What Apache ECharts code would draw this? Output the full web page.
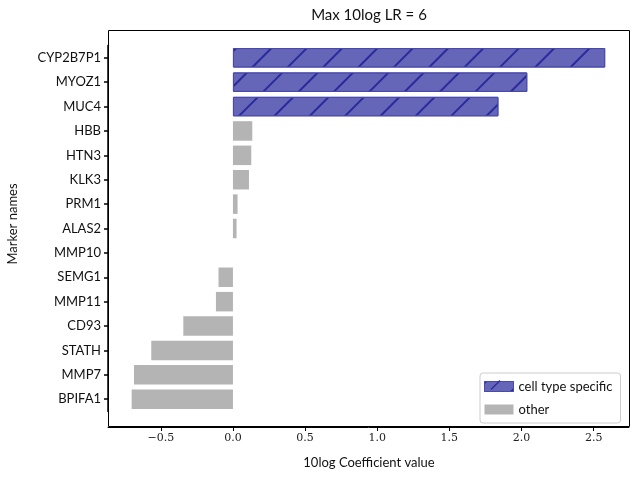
<!DOCTYPE html>
<html>
<head>
<meta charset="utf-8">
<script src="https://cdn.jsdelivr.net/npm/echarts@6/dist/echarts.min.js"></script>
<style>
  html, body { margin: 0; padding: 0; background: #fff; }
  #main { width: 633px; height: 477px; }
</style>
</head>
<body>
<div id="main"></div>
<script>
// marker names, top to bottom
var markers = ['CYP2B7P1', 'MYOZ1', 'MUC4', 'HBB', 'HTN3', 'KLK3', 'PRM1', 'ALAS2',
               'MMP10', 'SEMG1', 'MMP11', 'CD93', 'STATH', 'MMP7', 'BPIFA1'];
// 10log coefficient values
var specificVals = [2.58, 2.04, 1.84, null, null, null, null, null, null, null, null, null, null, null, null];
var otherVals = [null, null, null, 0.134, 0.127, 0.111, 0.032, 0.025, 0, -0.10, -0.118, -0.344, -0.566, -0.686, -0.702];
var xTicks = [-0.5, 0, 0.5, 1, 1.5, 2, 2.5];

var sans = 'Lato';
var serif = 'DejaVu Serif';

var hatch = {
    symbol: 'rect',
    symbolSize: 1,
    dashArrayX: [1, 0],
    dashArrayY: [1.3, 22.7],
    rotation: -Math.PI / 4,
    color: '#2a2a9c'
};

var chart = echarts.init(document.getElementById('main'));

// bands sit inside the frame (30..427) with matplotlib-like margins
var option = {
    animation: false,
    grid: { left: 108, top: 45.6, width: 521, height: 365.8 },
    xAxis: {
        type: 'value',
        min: -0.866,
        max: 2.745,
        offset: 15.6,
        splitLine: { show: false },
        axisLine: { show: true, onZero: false, lineStyle: { color: '#000', width: 1 } },
        axisTick: { show: true, length: 4, lineStyle: { color: '#000' }, customValues: xTicks },
        axisLabel: {
            customValues: xTicks,
            fontFamily: serif, fontSize: 11, color: '#222', margin: 6,
            formatter: function (v) { return v.toFixed(1).replace('-', '\u2212'); }
        }
    },
    yAxis: {
        type: 'category',
        inverse: true,
        data: markers,
        axisLine: { show: true, onZero: false, lineStyle: { color: '#000', width: 1.5 } },
        axisTick: { show: true, alignWithLabel: true, length: 4, lineStyle: { color: '#000', width: 1.5 } },
        axisLabel: { fontFamily: sans, fontSize: 13, color: '#111', margin: 7 },
        splitLine: { show: false }
    },
    legend: {
        orient: 'vertical',
        left: 480, top: 373,
        width: 148,
        backgroundColor: '#fff',
        borderColor: '#ccc',
        borderWidth: 1,
        borderRadius: 3,
        padding: [7, 8, 7, 4],
        itemWidth: 29, itemHeight: 10, itemGap: 10,
        icon: 'rect',
        textStyle: { fontFamily: sans, fontSize: 13, color: '#111' },
        data: [
            { name: 'cell type specific', itemStyle: { borderWidth: 1, borderColor: '#4a4aab' } },
            { name: 'other', itemStyle: { borderWidth: 0 } }
        ]
    },
    series: [{
        name: 'cell type specific',
        type: 'bar',
        data: specificVals,
        barWidth: 19.5,
        barGap: '-100%',
        itemStyle: {
            color: '#6666b9',
            borderColor: '#4a4aab',
            borderWidth: 1,
            decal: hatch
        }
    }, {
        name: 'other',
        type: 'bar',
        data: otherVals,
        barWidth: 19.5,
        barGap: '-100%',
        itemStyle: { color: '#b4b4b4' }
    }],
    graphic: [{
        // axes frame, drawn on top (no fill)
        type: 'rect',
        z: 100,
        silent: true,
        shape: { x: 108.5, y: 30.5, width: 521, height: 396 },
        style: { fill: null, stroke: '#000', lineWidth: 1 }
    }, {
        type: 'text',
        x: 369, y: 15,
        style: { text: 'Max 10log LR = 6', fontFamily: sans, fontSize: 15, fill: '#111', align: 'center', verticalAlign: 'middle' }
    }, {
        type: 'text',
        x: 369, y: 463,
        style: { text: '10log Coefficient value', fontFamily: sans, fontSize: 13, fill: '#111', align: 'center', verticalAlign: 'middle' }
    }, {
        type: 'text',
        x: 13, y: 224,
        rotation: Math.PI / 2,
        style: { text: 'Marker names', fontFamily: sans, fontSize: 13, fill: '#111', align: 'center', verticalAlign: 'middle' }
    }, {
        // hatch stroke on the legend patch
        type: 'line',
        z: 200,
        shape: { x1: 491, y1: 389.5, x2: 500, y2: 380.5 },
        style: { stroke: '#2a2a9c', lineWidth: 1.3 }
    }]
};
chart.setOption(option);
</script>
</body>
</html>
